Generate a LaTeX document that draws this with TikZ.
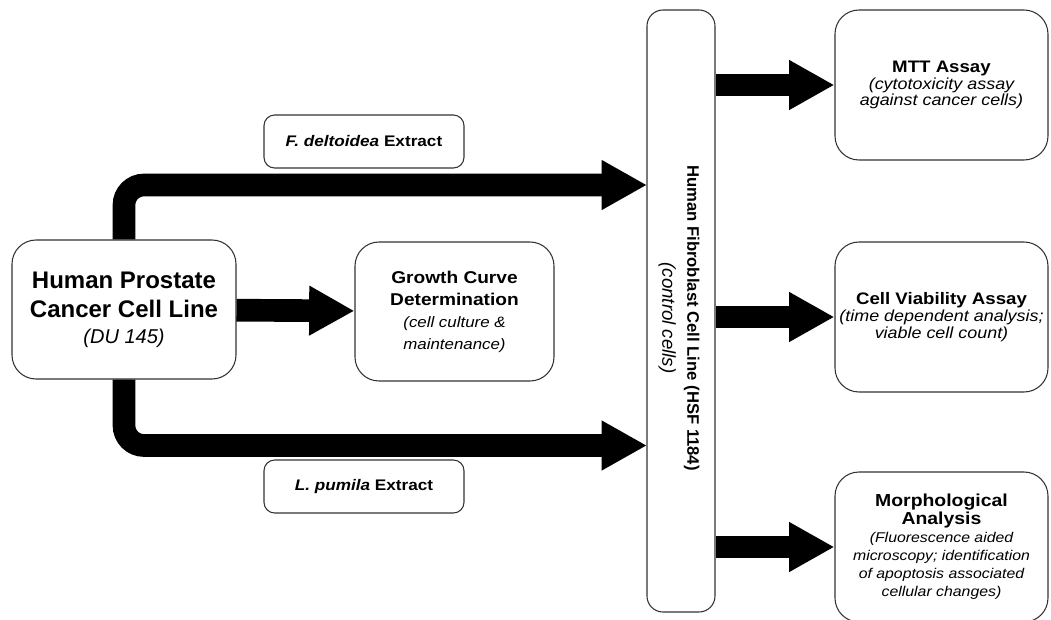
\documentclass[tikz,border=0pt]{standalone}
\usepackage{fontspec}
\setmainfont{Liberation Sans}[FakeStretch=1.12]
\newfontfamily\plainsf{Liberation Sans}
\usetikzlibrary{arrows.meta}
\newcommand{\boxtitle}[2]{{\fontsize{#1}{12}\selectfont\upshape\bfseries #2}}

\begin{document}
\begin{tikzpicture}[x=0.75pt,y=-0.75pt,
  box/.style={draw=black!80,line width=0.8pt,rounded corners=18pt,fill=white,align=center,inner sep=1pt},
  tag/.style={draw=black!80,line width=0.8pt,rounded corners=8pt,fill=white,minimum width=150pt,minimum height=39.75pt,
    font=\fontsize{11.5}{13}\selectfont\bfseries},
  flow/.style={black,line width=17pt,-{Triangle[length=34pt,width=35pt]}},
  assay/.style={box,minimum width=159.75pt,minimum height=112.5pt,font=\fontsize{12}{12.5}\selectfont\itshape}]
 \clip (0,0) rectangle (1051,619);
 \node[box,minimum width=168pt,minimum height=104.25pt,font=\plainsf\fontsize{18}{21.75}\selectfont] (hp) at (124,309.5)
   {\textbf{Human Prostate}\\\textbf{Cancer Cell Line}\\[-2pt]{\fontsize{15}{18}\selectfont\itshape (DU 145)}};
 \node[box,minimum width=149.25pt,minimum height=104.25pt,font=\fontsize{11.3}{16.5}\selectfont\itshape] (gc) at (454.5,311.5)
   {\boxtitle{12.8}{Growth Curve}\\\boxtitle{12.8}{Determination}\\(cell culture \&\\maintenance)};
 \node[box,rounded corners=12pt,minimum width=51pt,minimum height=451.5pt] (fib) at (681,311) {};
 \node[rotate=-90,align=center,font=\plainsf\fontsize{12.5}{18.75}\selectfont] (fibtxt) at (679,318)
   {{\bfseries Human Fibroblast Cell Line (HSF 1184)}\\{\fontsize{14}{18.75}\selectfont\itshape (control cells)}};
 \node[tag] (dt) at (364,141.5) {{\itshape F. deltoidea} Extract};
 \node[tag] (lp) at (364,486.5) {{\itshape L. pumila} Extract};
 \node[assay] (mtt) at (941.5,85)
   {\boxtitle{12.5}{MTT Assay}\\(cytotoxicity assay\\against cancer cells)};
 \node[assay] (cv) at (941.5,317)
   {\boxtitle{12.5}{Cell Viability Assay}\\(time dependent analysis;\\viable cell count)};
 \node[assay,font=\fontsize{10.6}{13.5}\selectfont\itshape] (morph) at (941.5,547)
   {\boxtitle{13}{Morphological}\\\boxtitle{13}{Analysis}\\(Fluorescence aided\\microscopy; identification\\of apoptosis associated\\cellular changes)};
 \coordinate (fdin) at (647,185);
 \coordinate (lpin) at (647,445.5);
 \draw[flow] (hp) -- (gc);
 \draw[flow,rounded corners=15pt] (hp.north) |- (fdin);
 \draw[flow,rounded corners=15pt] (hp.south) |- (lpin);
 \draw[flow] (fib.east |- mtt.west) -- (mtt.west);
 \draw[flow] (fib.east |- cv.west) -- (cv.west);
 \draw[flow] (fib.east |- morph.west) -- (morph.west);
\end{tikzpicture}
\end{document}
